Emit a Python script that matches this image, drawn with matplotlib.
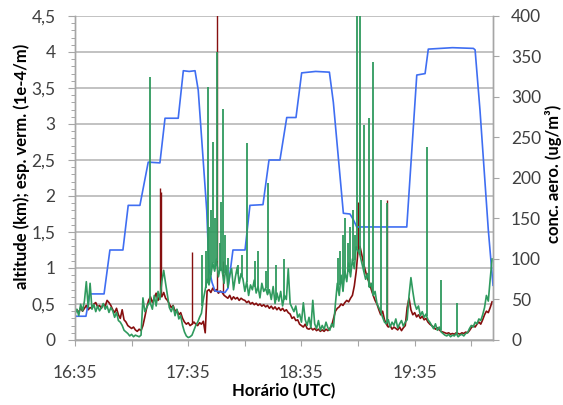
import matplotlib
matplotlib.use("Agg")
import matplotlib.pyplot as plt
import numpy as np
from matplotlib.ticker import MultipleLocator, FixedLocator, FuncFormatter

plt.rcParams['font.family'] = ['Lato', 'DejaVu Sans']

# flight altitude: corner points of the profile (minutes after 16:35, km)
alt_min = [0, 5.8, 7.9, 15.4, 18.5, 25.4, 28.2, 34.4, 38.8, 45.0, 47.7, 54.7,
           57.4, 60.5, 63.6, 65.3, 69.8, 71.0, 72.6, 74.2, 79.5, 81.1, 83.7,
           90.1, 92.7, 99.6, 102.8, 108.6, 112.2, 117.1, 120.1, 127.5, 134.8,
           136.9, 142.2, 145.7, 147.5, 149.3, 175.8, 181.1, 185.5, 187.2,
           200.0, 211.1, 212.0, 214.6, 219.0, 221.5]
alt_km = [0.33, 0.33, 0.64, 0.64, 1.25, 1.25, 1.87, 1.87, 2.47, 2.46, 3.08, 3.08,
          3.74, 3.73, 3.74, 3.47, 1.80, 1.00, 0.80, 0.68, 0.66, 0.72, 1.25,
          1.25, 1.87, 1.88, 2.50, 2.50, 3.09, 3.09, 3.71, 3.73, 3.72,
          3.30, 1.76, 1.75, 1.67, 1.57, 1.57, 3.68, 3.70, 4.04,
          4.06, 4.05, 4.03, 3.19, 1.53, 0.76]

# aerosol concentration (ug/m3), one reading per minute from 16:35
conc = [32, 38, 30, 44, 36, 48, 72, 40, 70, 38,
        44, 35, 42, 36, 40, 45, 38, 42, 34, 40,
        36, 28, 34, 24, 22, 18, 12, 10, 8, 5,
        7, 4, 6, 5, 4, 6, 52, 35, 40, 45,
        45, 38, 55, 42, 60, 50, 72, 86, 70, 55,
        40, 35, 42, 30, 38, 26, 30, 18, 10, 5,
        3, 4, 6, 12, 18, 22, 28, 33, 50, 62,
        75, 68, 80, 95, 85, 100, 78, 90, 85, 70,
        92, 65, 80, 88, 62, 78, 90, 70, 82, 75,
        60, 72, 55, 68, 62, 74, 58, 66, 52, 70,
        60, 64, 56, 62, 50, 66, 45, 58, 48, 60,
        42, 55, 50, 88, 45, 40, 35, 42, 28, 32,
        22, 46, 25, 18, 28, 15, 49, 20, 14, 24,
        12, 18, 13, 22, 15, 12, 20, 16, 45, 70,
        55, 80, 60, 85, 72, 95, 78, 100, 88, 115,
        110, 105, 95, 85, 75, 82, 65, 70, 55, 60,
        45, 40, 35, 28, 22, 20, 25, 16, 22, 18,
        26, 15, 20, 24, 17, 22, 25, 55, 77, 60,
        45, 38, 42, 30, 35, 28, 32, 25, 22, 18,
        14, 20, 12, 16, 10, 8, 6, 5, 7, 4,
        6, 5, 8, 4, 6, 7, 5, 8, 9, 14,
        18, 16, 22, 20, 26, 24, 31, 40, 55, 48,
        75, 100]

# vertical extinction (1e-4/m), one reading per minute from 16:35
ext = [0.40, 0.42, 0.38, 0.45, 0.40, 0.44, 0.48, 0.42, 0.45, 0.44,
       0.50, 0.52, 0.46, 0.48, 0.44, 0.50, 0.47, 0.55, 0.52, 0.48,
       0.42, 0.38, 0.44, 0.35, 0.30, 0.42, 0.28, 0.25, 0.20, 0.18,
       0.16, 0.18, 0.14, 0.12, 0.15, 0.13, 0.20, 0.32, 0.45, 0.55,
       0.60, 0.52, 0.58, 0.65, 0.55, 0.62, 0.60, 0.66, 0.58, 0.55,
       0.50, 0.45, 0.48, 0.40, 0.42, 0.35, 0.38, 0.30, 0.25, 0.22,
       0.24, 0.20, 0.22, 0.25, 0.22, 0.20, 0.24, 0.22, 0.26, 0.10,
       0.68, 0.70, 0.66, 0.72, 0.68, 0.70, 0.65, 0.68, 0.66, 0.62,
       0.60, 0.58, 0.62, 0.56, 0.60, 0.57, 0.59, 0.55, 0.58, 0.56,
       0.55, 0.52, 0.54, 0.50, 0.52, 0.49, 0.51, 0.48, 0.50, 0.47,
       0.49, 0.46, 0.48, 0.44, 0.47, 0.43, 0.46, 0.42, 0.45, 0.41,
       0.44, 0.40, 0.42, 0.38, 0.36, 0.30, 0.32, 0.27, 0.28, 0.22,
       0.20, 0.18, 0.22, 0.16, 0.15, 0.17, 0.14, 0.16, 0.13, 0.15,
       0.12, 0.14, 0.12, 0.15, 0.13, 0.16, 0.20, 0.30, 0.40, 0.44,
       0.46, 0.50, 0.48, 0.52, 0.55, 0.53, 0.58, 0.62, 0.75, 0.95,
       1.25, 1.30, 1.18, 1.05, 0.95, 0.85, 0.80, 0.70, 0.62, 0.55,
       0.50, 0.42, 0.35, 0.40, 0.28, 0.22, 0.18, 0.20, 0.15, 0.18,
       0.16, 0.14, 0.18, 0.13, 0.17, 0.20, 0.45, 0.58, 0.42, 0.35,
       0.38, 0.32, 0.35, 0.30, 0.33, 0.28, 0.30, 0.25, 0.22, 0.20,
       0.18, 0.15, 0.17, 0.14, 0.12, 0.11, 0.10, 0.09, 0.10, 0.08,
       0.09, 0.08, 0.10, 0.09, 0.08, 0.10, 0.09, 0.11, 0.10, 0.13,
       0.17, 0.20, 0.18, 0.22, 0.25, 0.22, 0.28, 0.35, 0.40, 0.38,
       0.45, 0.53]

# short peaks between the per-minute readings
conc_peak_min = [39.7, 67.5, 69.2, 70.6, 71.2, 72.0, 73.0, 74.2, 75.1, 76.6,
                 77.5, 78.3, 79.6, 81.1, 86.4, 88.5, 91.0, 95.5, 97.2, 101.0,
                 102.5, 106.3, 110.6, 139.4, 140.5, 142.0, 143.2, 144.5, 145.7,
                 147.2, 148.4, 149.3, 151.0, 153.1, 156.0, 158.1, 162.0, 165.5,
                 186.4, 193.7, 202.4]
conc_peak_val = [325, 105, 110, 312, 140, 160, 245, 150, 356, 120,
                 170, 285, 130, 101, 92, 105, 243, 98, 110, 85,
                 194, 92, 100, 101, 110, 130, 150, 120, 140,
                 160, 130, 420, 420, 265, 274, 343, 173, 169,
                 238, 74, 46]
ext_peak_min = [45.0, 45.5, 62.0, 75.1, 78.5, 150.0, 165.5]
ext_peak_val = [2.11, 2.05, 1.22, 4.60, 1.10, 1.92, 1.95]

hour_ticks = [0, 60, 120, 180]
hour_labels = ["16:35", "17:35", "18:35", "19:35"]

blue = "#3f6ef2"
maroon = "#860f0f"
green = "#2f9a5e"
grey_txt = "#404040"
grey_ax = "#a6a6a6"

minutes = np.arange(len(conc))

fig = plt.figure(figsize=(5.63, 4.05), dpi=100)
ax1 = fig.add_axes([0.1332, 0.1605, 0.7425, 0.8])
ax2 = ax1.twinx()

# left axis: extinction and altitude
ax1.plot(minutes, ext, color=maroon, lw=1.2, zorder=2)
ext_base = np.interp(ext_peak_min, minutes, ext)
ax1.vlines(ext_peak_min, ext_base, ext_peak_val, color=maroon, lw=1.0, zorder=2)
ax1.plot(alt_min, alt_km, color=blue, lw=1.2, zorder=3)

# right axis: concentration
ax2.plot(minutes, conc, color=green, lw=1.2)
conc_base = np.interp(conc_peak_min, minutes, conc)
ax2.vlines(conc_peak_min, conc_base, conc_peak_val, color=green, lw=1.3)

ax1.set_xlim(0, 221.5)
ax1.set_ylim(0, 4.5)
ax2.set_ylim(0, 400)

ax1.yaxis.set_major_locator(MultipleLocator(0.5))
ax1.yaxis.set_minor_locator(MultipleLocator(0.1))
ax1.yaxis.set_major_formatter(FuncFormatter(lambda v, p: f"{v:g}".replace(".", ",")))
ax2.yaxis.set_major_locator(MultipleLocator(50))

ax1.xaxis.set_major_locator(FixedLocator(hour_ticks))
ax1.set_xticklabels(hour_labels)
ax1.xaxis.set_minor_locator(FixedLocator([30, 90, 150, 210]))

ax1.grid(axis='y', which='major', color='#bdbdbd', lw=1.3)
ax1.set_axisbelow(True)

for ax in (ax1, ax2):
    ax.spines['top'].set_visible(False)
    for s in ('left', 'right', 'bottom'):
        ax.spines[s].set_color(grey_ax)
        ax.spines[s].set_linewidth(1.0)

ax1.tick_params(axis='y', which='major', length=5, width=0.8, color=grey_ax,
                pad=9, labelsize=12.5, labelcolor=grey_txt)
ax1.tick_params(axis='y', which='minor', length=3, width=0.7, color=grey_ax)
ax1.tick_params(axis='x', which='both', length=4, width=0.8, color=grey_ax,
                pad=14, labelsize=12.5, labelcolor=grey_txt)
ax2.tick_params(axis='y', which='major', length=4, width=0.8, color=grey_ax,
                pad=9, labelsize=12.5, labelcolor=grey_txt)

fig.text(22 / 563, 0.590, "altitude (km); esp. verm. (1e-4/m)", rotation=90,
         ha='center', va='center', fontsize=12, fontweight='bold')
fig.text(553 / 563, 0.570, "conc. aero. (ug/m³)", rotation=90,
         ha='center', va='center', fontsize=12, fontweight='bold')
fig.text(284 / 563, 0.0205, "Horário (UTC)", ha='center', va='baseline',
         fontsize=12, fontweight='bold')

fig.savefig("out.png", dpi=100)
